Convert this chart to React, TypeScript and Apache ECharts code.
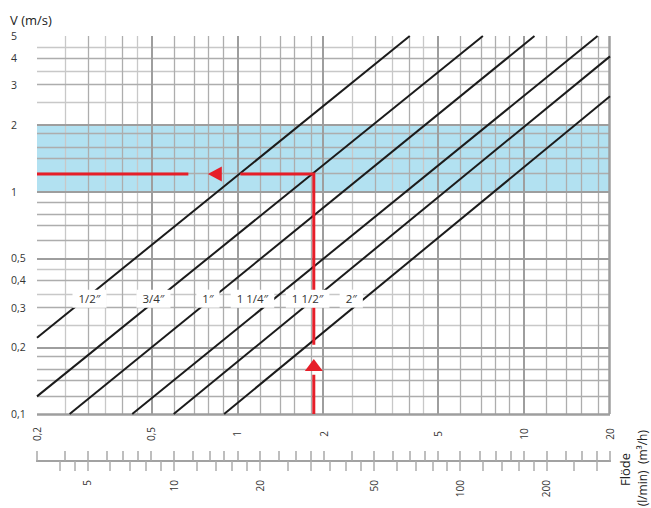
import React, { useEffect, useRef } from "react";
import * as echarts from "echarts";

// ---- axis ranges / ticks ----
const FLOW_MIN = 0.2;
const FLOW_MAX = 20;
const V_MIN = 0.1;
const V_MAX = 5;
const LMIN_PER_M3H = 1000 / 60;

const FLOW_LABELS = [0.2, 0.5, 1, 2, 5, 10, 20];
const V_LABELS = [0.1, 0.2, 0.3, 0.4, 0.5, 1, 2, 3, 4, 5];
const LMIN_LABELS = [5, 10, 20, 50, 100, 200];
const LMIN_MINOR = [4, 4.5, 6, 7, 8, 9, 12, 14, 16, 18, 25, 30, 35, 40, 45, 60, 70, 80, 90, 120, 140, 160, 180, 250, 300];

const FLOW_MAJOR = [0.5, 1, 2, 5, 10];
const FLOW_MINOR = [0.3, 0.4, 0.6, 0.7, 0.8, 0.9, 1.2, 1.4, 1.6, 1.8, 3, 4, 6, 7, 8, 9, 12, 14, 16, 18];
const FLOW_LIGHT = [0.25, 0.35, 0.45, 2.5, 3.5, 4.5];
const V_MAJOR = [0.2, 0.5, 1, 2];
const V_MINOR = [0.12, 0.14, 0.16, 0.18, 0.3, 0.4, 0.6, 0.7, 0.8, 0.9, 1.2, 1.4, 1.6, 1.8, 3, 4];
const V_LIGHT = [0.25, 0.35, 0.45, 2.5, 3.5, 4.5];

// recommended velocity band
const BAND = [1, 2];

// ---- pipe lines ----
const PIPE_NAMES = ["1/2″", "3/4″", "1″", "1 1/4″", "1 1/2″", "2″"];
const PIPE_START_Q = [0.2, 0.2, 0.26, 0.43, 0.6, 0.9];
const PIPE_START_V = [0.22, 0.12, 0.1, 0.1, 0.1, 0.1];
const PIPE_END_Q = [4.0, 7.2, 10.9, 18.1, 20, 20];
const PIPE_END_V = [5, 5, 5, 5, 4.05, 2.68];
const PIPE_LABEL_Q = [0.305, 0.51, 0.79, 1.13, 1.76, 2.5];
const PIPE_LABEL_V = 0.33;

// ---- red example ----
const RED_SEG1 = [[0.2, 1.2], [0.675, 1.2]];
const RED_SEG2 = [[1.025, 1.2], [1.85, 1.2], [1.85, 0.205]];
const RED_SEG3 = [[1.85, 0.15], [1.85, 0.1]];
const ARROW_LEFT = [0.835, 1.2];
const ARROW_UP = [1.85, 0.166];

const L = (v: number) => Math.log10(v);
const FONT = "'Open Sans', 'Noto Sans', sans-serif";
const RED = "#e61e29";

const fmtComma = (v: number) => {
  const n = Math.round(Math.pow(10, v) * 100) / 100;
  return String(n).replace(".", ",");
};

export default function App() {
  const ref = useRef<HTMLDivElement>(null);

  useEffect(() => {
    if (!ref.current) return;
    const chart = echarts.init(ref.current, undefined, { renderer: "svg" });

    const gridLines: any[] = [];
    const major = { color: "#9e9e9e", width: 2, type: "solid" };
    const minor = { color: "#adadad", width: 1.3, type: "solid" };
    const light = { color: "#c8c8c8", width: 1.3, type: "solid" };
    FLOW_LIGHT.forEach((v) => gridLines.push({ xAxis: L(v), lineStyle: light }));
    V_LIGHT.forEach((v) => gridLines.push({ yAxis: L(v), lineStyle: light }));
    FLOW_MINOR.forEach((v) => gridLines.push({ xAxis: L(v), lineStyle: minor }));
    V_MINOR.forEach((v) => gridLines.push({ yAxis: L(v), lineStyle: minor }));
    FLOW_MAJOR.forEach((v) => gridLines.push({ xAxis: L(v), lineStyle: major }));
    V_MAJOR.forEach((v) => gridLines.push({ yAxis: L(v), lineStyle: major }));
    [FLOW_MIN, FLOW_MAX].forEach((v) => gridLines.push({ xAxis: L(v), lineStyle: { ...major, width: 2.5 } }));
    [V_MIN, V_MAX].forEach((v) => gridLines.push({ yAxis: L(v), lineStyle: { ...major, width: 2.5 } }));

    const pipeSeries = PIPE_NAMES.map((name, i) => ({
      type: "line",
      name,
      z: 3,
      symbol: "none",
      silent: true,
      lineStyle: { color: "#1b1b1b", width: 2 },
      data: [
        [L(PIPE_START_Q[i]), L(PIPE_START_V[i])],
        [L(PIPE_END_Q[i]), L(PIPE_END_V[i])],
      ],
    }));

    const redSeries = [RED_SEG1, RED_SEG2, RED_SEG3].map((seg) => ({
      type: "line",
      z: 4,
      symbol: "none",
      silent: true,
      lineStyle: { color: RED, width: 3, cap: "butt", join: "miter", opacity: 1 },
      data: seg.map((p) => [L(p[0]), L(p[1])]),
    }));

    const option: any = {
      animation: false,
      textStyle: { fontFamily: FONT },
      grid: { left: 37, right: 41, top: 36, bottom: 94, containLabel: false, outerBoundsMode: "none" },
      xAxis: [
        {
          type: "value",
          position: "bottom",
          min: L(FLOW_MIN),
          max: L(FLOW_MAX),
          axisLine: { show: false },
          axisTick: { show: false },
          splitLine: { show: false },
          axisLabel: {
            customValues: FLOW_LABELS.map(L),
            formatter: fmtComma,
            rotate: 90,
            margin: 20,
            align: "center",
            verticalAlign: "middle",
            fontSize: 10,
            color: "#333",
            fontFamily: FONT,
          },
        },
        {
          type: "value",
          position: "bottom",
          offset: 47,
          min: L(FLOW_MIN),
          max: L(FLOW_MAX),
          axisLine: { show: true, lineStyle: { color: "#a2a2a2", width: 2 } },
          axisTick: {
            show: true,
            inside: true,
            length: 10,
            customValues: [FLOW_MIN, FLOW_MAX, ...FLOW_MAJOR, ...FLOW_MINOR, ...FLOW_LIGHT].map(L),
            lineStyle: { color: "#a8a8a8", width: 1.5 },
          },
          axisLabel: { show: false },
          splitLine: { show: false },
        },
        {
          type: "value",
          position: "bottom",
          offset: 47,
          min: L(FLOW_MIN * LMIN_PER_M3H),
          max: L(FLOW_MAX * LMIN_PER_M3H),
          axisLine: { show: true, lineStyle: { color: "#a2a2a2", width: 2 } },
          axisTick: {
            show: true,
            inside: false,
            length: 10,
            customValues: [...LMIN_LABELS, ...LMIN_MINOR].map(L),
            lineStyle: { color: "#acacac", width: 1.5 },
          },
          axisLabel: {
            customValues: LMIN_LABELS.map(L),
            formatter: (v: number) => String(Math.round(Math.pow(10, v))),
            rotate: 90,
            margin: 19,
            fontSize: 10,
            color: "#333",
            fontFamily: FONT,
          },
          splitLine: { show: false },
        },
      ],
      yAxis: {
        type: "value",
        min: L(V_MIN),
        max: L(V_MAX),
        axisLine: { show: false },
        axisTick: { show: false },
        splitLine: { show: false },
        axisLabel: {
          customValues: V_LABELS.map(L),
          formatter: fmtComma,
          align: "left",
          margin: 26,
          fontSize: 10.5,
          color: "#333",
          fontFamily: FONT,
        },
      },
      graphic: [
        {
          type: "text",
          x: 10,
          y: 20,
          style: { text: "V (m/s)", font: `13px ${FONT}`, fill: "#222", align: "left", verticalAlign: "middle" },
        },
        {
          type: "text",
          x: 625,
          y: 453,
          rotation: Math.PI / 2,
          style: { text: "Flöde", font: `13px ${FONT}`, fill: "#222", align: "right", verticalAlign: "middle" },
        },
        {
          type: "text",
          x: 642,
          y: 430,
          rotation: Math.PI / 2,
          style: { text: "(l/min)  (m³/h)", font: `12px ${FONT}`, fill: "#222", align: "right", verticalAlign: "middle" },
        },
      ],
      series: [
        {
          type: "line",
          z: 1,
          silent: true,
          symbol: "none",
          lineStyle: { opacity: 0 },
          data: [[L(FLOW_MIN), L(V_MIN)]],
          markArea: {
            silent: true,
            z: 1,
            itemStyle: { color: "#b2e1f1", opacity: 1 },
            data: [[{ yAxis: L(BAND[0]) }, { yAxis: L(BAND[1]) }]],
          },
        },
        {
          type: "line",
          z: 2,
          silent: true,
          symbol: "none",
          lineStyle: { opacity: 0 },
          data: [[L(FLOW_MIN), L(V_MIN)]],
          markLine: {
            silent: true,
            z: 2,
            symbol: ["none", "none"],
            label: { show: false },
            data: gridLines,
          },
        },
        ...pipeSeries,
        ...redSeries,
        {
          type: "scatter",
          z: 4,
          silent: true,
          symbol: "triangle",
          itemStyle: { color: RED, opacity: 1 },
          data: [
            { value: [L(ARROW_LEFT[0]), L(ARROW_LEFT[1])], symbolRotate: 90, symbolSize: [15, 14] },
            { value: [L(ARROW_UP[0]), L(ARROW_UP[1])], symbolRotate: 0, symbolSize: [18, 12] },
          ],
        },
        {
          type: "scatter",
          z: 6,
          silent: true,
          symbolSize: 1,
          itemStyle: { color: "rgba(0,0,0,0)", opacity: 1 },
          label: {
            show: true,
            position: "inside",
            formatter: (p: any) => p.name,
            backgroundColor: "#ffffff",
            padding: [3, 6],
            fontSize: 11.5,
            color: "#333",
            fontFamily: FONT,
          },
          data: PIPE_NAMES.map((name, i) => ({ name, value: [L(PIPE_LABEL_Q[i]), L(PIPE_LABEL_V)] })),
        },
      ],
    };

    chart.setOption(option);
    return () => chart.dispose();
  }, []);

  return (
    <div
      ref={ref}
      style={{ position: "absolute", left: 0, top: 0, width: 651, height: 508, background: "#fff" }}
    />
  );
}
